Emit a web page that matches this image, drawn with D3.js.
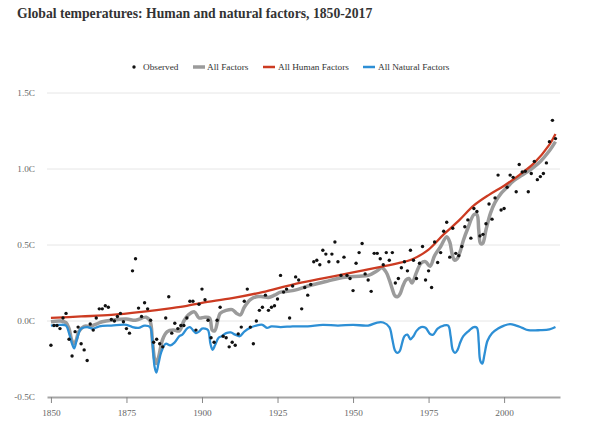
<!DOCTYPE html>
<html><head><meta charset="utf-8">
<script src="https://cdn.jsdelivr.net/npm/d3@7"></script>
<style>
body{margin:0;background:#fff;}
svg{display:block;font-family:"Liberation Serif","Times New Roman",serif;}
</style></head>
<body><svg id="c" width="590" height="441"></svg>
<script>
const title = "Global temperatures: Human and natural factors, 1850-2017";
const xTicks = [1850, 1875, 1900, 1925, 1950, 1975, 2000];
const yTicks = [-0.5, 0.0, 0.5, 1.0, 1.5];
const yTickLabels = ["-0.5C", "0.0C", "0.5C", "1.0C", "1.5C"];
const legendLabels = ["Observed", "All Factors", "All Human Factors", "All Natural Factors"];

const obsStart = 1850;
const observed = [
-0.16,-0.03,-0.03,-0.05,0.02,0.05,-0.12,-0.23,-0.07,-0.04,
-0.15,-0.19,-0.26,-0.02,-0.06,0.02,0.08,0.08,0.10,0.09,
0.01,0.0,0.03,0.05,-0.005,-0.05,-0.08,0.33,0.41,0.085,
0.03,0.12,0.08,0.005,-0.14,-0.12,-0.15,-0.17,0.02,0.16,
-0.08,-0.015,-0.05,-0.03,-0.03,0.02,0.13,0.13,-0.06,0.11,
0.21,0.14,0.005,-0.11,-0.14,0.005,0.09,-0.10,-0.11,-0.17,
-0.14,-0.16,-0.085,-0.04,0.13,0.21,-0.04,-0.15,0.0,0.07,
0.09,0.17,0.07,0.09,0.10,0.145,0.30,0.19,0.21,0.02,
0.23,0.29,0.27,0.08,0.22,0.17,0.24,0.39,0.40,0.37,
0.465,0.44,0.39,0.44,0.52,0.39,0.30,0.42,0.30,0.28,
0.20,0.38,0.45,0.51,0.31,0.27,0.195,0.445,0.445,0.41,
0.37,0.45,0.40,0.45,0.25,0.28,0.35,0.39,0.33,0.465,
0.40,0.28,0.38,0.49,0.27,0.33,0.22,0.52,0.385,0.45,
0.59,0.65,0.42,0.61,0.445,0.43,0.49,0.62,0.665,0.545,
0.74,0.72,0.56,0.57,0.64,0.77,0.67,0.81,0.96,0.73,
0.74,0.88,0.96,0.945,0.85,1.03,0.98,0.985,0.85,0.97,
1.05,0.93,0.95,0.97,1.04,1.18,1.32,1.20];

const humanYears  = [1850,1860,1870,1880,1890,1895,1900,1910,1920,1930,1940,1950,1955,1960,1965,1970,1975,1980,1985,1990,1995,2000,2005,2010,2015,2017];
const humanValues = [0.02,0.03,0.04,0.06,0.085,0.10,0.12,0.15,0.19,0.24,0.28,0.32,0.34,0.36,0.38,0.41,0.47,0.57,0.66,0.76,0.83,0.89,0.96,1.04,1.16,1.23];

const naturalYears  = [1850,1853,1855,1856,1857,1857.7,1858.6,1860,1862,1864,1866,1870,1875,1877,1879,1881,1882.8,1883.6,1884.3,1884.9,1885.6,1886.6,1888,1889.5,1891,1892.5,1893.5,1895,1896,1897,1898,1899,1900,1901,1902,1902.8,1903.5,1904.3,1905.5,1906.5,1908,1909.5,1911,1912.5,1914,1916,1918,1920,1921.5,1923,1926,1930,1935,1940,1945,1950,1955,1958,1960,1962,1963,1963.8,1964.6,1965.4,1966.3,1967,1968,1969,1970,1971,1972.5,1974,1975.5,1976.5,1978,1980,1981.5,1982.3,1983,1983.8,1984.6,1985.5,1986.5,1988,1990,1991,1991.6,1992.1,1992.8,1993.5,1994.5,1996,1998,2000,2002,2004,2006,2008,2012,2015,2017];
const naturalValues = [-0.03,-0.025,-0.03,-0.08,-0.15,-0.18,-0.12,-0.05,-0.04,-0.05,-0.035,-0.03,-0.025,-0.04,-0.045,-0.03,-0.04,-0.14,-0.30,-0.34,-0.28,-0.2,-0.15,-0.16,-0.14,-0.10,-0.09,-0.05,-0.04,-0.06,-0.08,-0.07,-0.05,-0.05,-0.06,-0.15,-0.19,-0.16,-0.11,-0.10,-0.08,-0.075,-0.09,-0.10,-0.07,-0.045,-0.03,-0.025,-0.045,-0.035,-0.04,-0.035,-0.035,-0.025,-0.03,-0.025,-0.03,-0.01,-0.01,-0.04,-0.12,-0.19,-0.21,-0.20,-0.14,-0.10,-0.09,-0.12,-0.10,-0.065,-0.04,-0.045,-0.085,-0.09,-0.05,-0.03,-0.03,-0.10,-0.19,-0.21,-0.19,-0.14,-0.10,-0.07,-0.04,-0.045,-0.14,-0.26,-0.28,-0.22,-0.13,-0.08,-0.05,-0.03,-0.02,-0.03,-0.045,-0.06,-0.06,-0.055,-0.04];

const allYears  = [1850,1853,1855,1856,1856.8,1857.5,1858.3,1859.2,1861,1863,1865,1867,1870,1875,1878,1881.5,1882.8,1883.6,1884.3,1884.9,1885.6,1887,1888.5,1890.5,1892.5,1894,1895.5,1897.5,1899,1901,1902.5,1903.4,1904.2,1905.2,1906,1908,1910,1911.5,1912.7,1914,1916,1918,1920,1922,1924,1926,1930,1932,1936,1941,1945,1948,1952,1955,1958,1959.5,1961,1962,1963,1963.9,1964.8,1965.6,1966.5,1967.5,1968.5,1969.5,1971,1972.5,1974,1975.5,1977,1979,1981,1982,1982.8,1983.6,1984.5,1985.5,1986.5,1988,1990,1991,1991.6,1992.2,1992.9,1994,1995.5,1997,1999,2001,2003,2006,2009,2012,2015,2017];
const allValues = [-0.005,0.0,-0.01,-0.05,-0.12,-0.15,-0.13,-0.07,-0.035,-0.035,-0.02,-0.005,0.005,0.013,0.005,0.025,0.0,-0.13,-0.25,-0.28,-0.24,-0.12,-0.07,-0.06,-0.065,0.0,0.04,0.06,0.02,0.025,0.02,-0.06,-0.065,0.0,0.05,0.07,0.075,0.05,0.04,0.09,0.14,0.16,0.16,0.155,0.17,0.19,0.20,0.21,0.235,0.26,0.28,0.29,0.295,0.30,0.33,0.35,0.32,0.27,0.21,0.165,0.16,0.18,0.23,0.27,0.28,0.25,0.32,0.38,0.39,0.36,0.43,0.49,0.555,0.52,0.44,0.40,0.41,0.46,0.53,0.61,0.70,0.70,0.60,0.51,0.51,0.60,0.71,0.78,0.84,0.88,0.92,0.96,1.0,1.05,1.12,1.18];

const colors = {obs:"#111", all:"#9b9b9b", human:"#cc3b22", natural:"#2d8fd5"};

const svg = d3.select("#c");
const x = d3.scaleLinear().domain([1848.7, 2018.5]).range([47, 560]);
const y = d3.scaleLinear().domain([-0.5, 1.5]).range([397, 93]);

svg.append("text").attr("x",17).attr("y",17.5)
  .attr("font-size","13.7px").attr("font-weight","bold").attr("fill","#333").text(title);

svg.append("g").selectAll("line").data(yTicks.filter(d=>d>-0.5)).join("line")
  .attr("x1",47).attr("x2",560).attr("y1",d=>y(d)).attr("y2",d=>y(d))
  .attr("stroke","#e6e6e6").attr("stroke-width",1);

svg.append("g").selectAll("text").data(yTicks).join("text")
  .attr("x",35).attr("y",d=>y(d)+3).attr("text-anchor","end")
  .attr("font-size","9.25px").attr("fill","#666").text((d,i)=>yTickLabels[i]);

const xAxis = d3.axisBottom(x).tickValues(xTicks).tickFormat(d3.format("d")).tickSize(6).tickSizeOuter(0).tickPadding(6);
const gx = svg.append("g").attr("transform","translate(0,397)").call(xAxis);
gx.select(".domain").attr("stroke","#a5a5a5").attr("stroke-width",2);
gx.selectAll(".tick line").attr("stroke","#888");
gx.selectAll(".tick text").attr("font-family","'Liberation Serif','Times New Roman',serif").attr("font-size","9.25px").attr("fill","#666");

const line = d3.line().x(d=>x(d[0])).y(d=>y(d[1])).curve(d3.curveCatmullRom.alpha(0.5));
const pair = (ys, vs) => ys.map((yr,i)=>[yr, vs[i]]);

svg.append("path").datum(pair(allYears, allValues)).attr("d",line)
  .attr("fill","none").attr("stroke",colors.all).attr("stroke-width",3.5).attr("stroke-linejoin","round");
svg.append("path").datum(pair(humanYears, humanValues)).attr("d",line)
  .attr("fill","none").attr("stroke",colors.human).attr("stroke-width",2.3);
svg.append("path").datum(pair(naturalYears, naturalValues)).attr("d",line)
  .attr("fill","none").attr("stroke",colors.natural).attr("stroke-width",2.3).attr("stroke-linejoin","round");

svg.append("g").selectAll("circle").data(observed).join("circle")
  .attr("cx",(d,i)=>x(obsStart+i)).attr("cy",d=>y(d)).attr("r",1.7).attr("fill",colors.obs);

const lg = svg.append("g").attr("font-size","9.25px").attr("fill","#333");
lg.append("circle").attr("cx",134).attr("cy",67).attr("r",1.7).attr("fill",colors.obs);
lg.append("text").attr("x",143).attr("y",70).text(legendLabels[0]);
const sw = [[193,colors.all,3.5,207,legendLabels[1]],[263,colors.human,2.5,278,legendLabels[2]],[363,colors.natural,2.5,378,legendLabels[3]]];
sw.forEach(s=>{
  lg.append("line").attr("x1",s[0]).attr("x2",s[0]+12).attr("y1",67).attr("y2",67).attr("stroke",s[1]).attr("stroke-width",s[2]);
  lg.append("text").attr("x",s[3]).attr("y",70).text(s[4]);
});
</script></body></html>
